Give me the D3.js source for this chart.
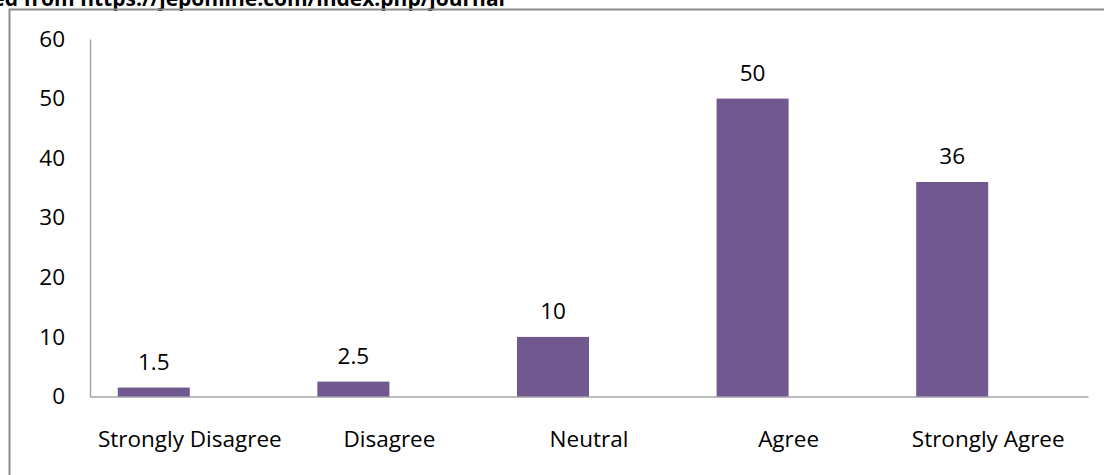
<!DOCTYPE html>
<html>
<head>
<meta charset="utf-8">
<script src="https://cdn.jsdelivr.net/npm/d3@7"></script>
<style>
  body { margin: 0; background: #fff; }
  svg text { font-family: "Open Sans", sans-serif; fill: #000; }
</style>
</head>
<body>
<div id="container"></div>
<script>
// chart size
var svg_width = 1104
var svg_height = 475
var fontSize = "22.5px"

// data
var categories = ["Strongly Disagree", "Disagree", "Neutral", "Agree", "Strongly Agree"]
var values = [1.5, 2.5, 10, 50, 36]
var yTicks = [0, 10, 20, 30, 40, 50, 60]
var series = ["value", "empty"]   // excel-style second (empty) series shifts bars left
var sourceNote = "Downloaded from https://jeponline.com/index.php/journal"

var svg = d3.select("#container")
    .append("svg")
    .attr("width", svg_width)
    .attr("height", svg_height)

// cut-off source line at the top
svg.append("text")
    .attr("x", 505)
    .attr("y", 6)
    .attr("text-anchor", "end")
    .style("font-weight", "bold")
    .style("font-size", "21px")
    .text(sourceNote)

// frame (only top and left visible)
svg.append("path")
    .attr("d", "M9.5,475 L9.5,9.5 L1104,9.5")
    .attr("fill", "none")
    .attr("stroke", "#8c8c8c")
    .attr("stroke-width", 2)

// scales
var x = d3.scaleBand()
    .domain(categories)
    .range([90, 1088])

var xInner = d3.scaleBand()
    .domain(series)
    .range([0, x.bandwidth()])
    .paddingOuter(0.386)

var y = d3.scaleLinear()
    .domain([0, 60])
    .range([396.5, 39])

// y axis
var yAxis = d3.axisLeft(y)
    .tickValues(yTicks)
    .tickSize(0)
    .tickPadding(25)

var gy = svg.append("g")
    .attr("transform", "translate(90,0)")
    .call(yAxis)
gy.select(".domain").attr("stroke", "#a6a6a6").attr("stroke-width", 1.5)
gy.selectAll("text")
    .style("font-size", fontSize)
    .style("font-family", "'Open Sans', sans-serif")
    .attr("fill", "#000")

// x axis
var xAxis = d3.axisBottom(x)
    .tickSize(0)

var gx = svg.append("g")
    .attr("transform", "translate(0," + y(0) + ")")
    .call(xAxis)
gx.select(".domain").attr("stroke", "#a6a6a6").attr("stroke-width", 1.5)
gx.selectAll("text")
    .attr("dy", null)
    .attr("y", 447 - y(0))
    .style("font-size", fontSize)
    .style("font-family", "'Open Sans', sans-serif")
    .attr("fill", "#000")

// bars
svg.append("g")
    .selectAll("rect")
    .data(values)
    .enter()
    .append("rect")
    .attr("x", (d, i) => x(categories[i]) + xInner("value"))
    .attr("y", d => y(d))
    .attr("width", xInner.bandwidth())
    .attr("height", d => y(0) - y(d))
    .attr("fill", "#71588f")

// data labels
svg.append("g")
    .selectAll("text")
    .data(values)
    .enter()
    .append("text")
    .attr("x", (d, i) => x(categories[i]) + xInner("value") + xInner.bandwidth() / 2)
    .attr("y", d => y(d) - 18)
    .attr("text-anchor", "middle")
    .style("font-size", fontSize)
    .text(d => d)
</script>
</body>
</html>
